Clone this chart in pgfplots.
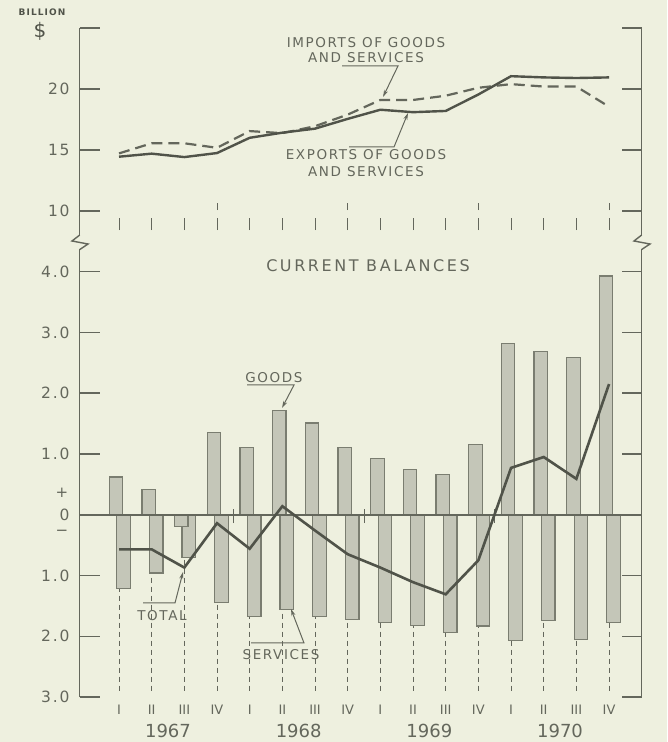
\documentclass[border=0pt]{standalone}
\usepackage{pgfplots}
\pgfplotsset{compat=1.18}
\usepackage{fontspec}
\setmainfont{DejaVu Sans}
\newfontfamily\lbl[LetterSpace=12]{DejaVu Sans}
\newfontfamily\lblw[LetterSpace=16]{DejaVu Sans}
\usetikzlibrary{arrows.meta}
\definecolor{bg}{RGB}{238,240,223}
\definecolor{ink}{RGB}{100,103,92}
\definecolor{dark}{RGB}{80,83,73}
\definecolor{barfill}{RGB}{196,198,184}
\definecolor{barmid}{RGB}{222,224,210}
\definecolor{baredge}{RGB}{122,125,112}

\pgfplotstableread{
x exports imports
0 14.45 14.72
1 14.70 15.55
2 14.42 15.55
3 14.75 15.18
4 16.00 16.55
5 16.42 16.38
6 16.75 16.95
7 17.55 17.90
8 18.30 19.10
9 18.10 19.10
10 18.20 19.45
11 19.55 20.10
12 21.05 20.40
13 20.95 20.20
14 20.90 20.20
15 20.95 18.55
}\tradetable

\pgfplotstableread{
x goods services total
0 0.62 -1.21 -0.57
1 0.41 -0.96 -0.57
2 -0.20 -0.70 -0.87
3 1.35 -1.44 -0.14
4 1.10 -1.67 -0.56
5 1.72 -1.56 0.14
6 1.51 -1.68 -0.26
7 1.11 -1.73 -0.65
8 0.93 -1.77 -0.87
9 0.74 -1.82 -1.11
10 0.66 -1.94 -1.31
11 1.15 -1.83 -0.75
12 2.82 -2.07 0.77
13 2.69 -1.74 0.95
14 2.59 -2.05 0.59
15 3.93 -1.77 2.15
}\baltable

\begin{document}
\begin{tikzpicture}
\fill[bg] (0pt,0pt) rectangle (667pt,742pt);
\path[use as bounding box] (0pt,0pt) rectangle (667pt,742pt);

% ---------------- top panel ----------------
\begin{axis}[
  at={(79.8pt,506.6pt)}, anchor=south west, scale only axis,
  width=561.9pt, height=207.4pt,
  xmin=-1.2, xmax=16, ymin=8, ymax=25,
  separate axis lines,
  x axis line style={draw=none},
  y axis line style={draw=ink, line width=1.4pt},
  xtick=\empty,
  ytick={10,15,20,25}, yticklabels={10,15,20,{}},
  ytick style={draw=ink, line width=1.4pt},
  major tick length=20pt, tick align=inside,
  yticklabel pos=left,
  yticklabel style={font=\lbl\fontsize{15.5}{15.5}\selectfont, text=ink, inner sep=0pt, xshift=-10pt},
  clip=false,
]
\pgfplotsinvokeforeach{0,...,15}{\draw[ink, line width=1pt] (axis cs:#1,8.44) -- (axis cs:#1,9.43);}
\pgfplotsinvokeforeach{3,7,11,15}{\draw[ink, line width=1pt] (axis cs:#1,10.08) -- (axis cs:#1,10.66);}
\addplot[ink, line width=2.2pt, dash pattern=on 11pt off 6pt] table[x=x,y=imports] {\tradetable};
\addplot[dark, line width=2.4pt] table[x=x,y=exports] {\tradetable};
\end{axis}

% ---------------- bottom panel ----------------
\begin{axis}[
  at={(79.8pt,45pt)}, anchor=south west, scale only axis,
  width=561.9pt, height=447.8pt,
  xmin=-1.2, xmax=16, ymin=-3, ymax=4.37,
  separate axis lines,
  x axis line style={draw=none},
  y axis line style={draw=ink, line width=1.4pt},
  xtick={0,...,15},
  xticklabels={I,II,III,IV,I,II,III,IV,I,II,III,IV,I,II,III,IV},
  xtick style={draw=none},
  xticklabel style={font=\fontsize{13}{13}\selectfont, text=ink, inner sep=0pt, yshift=-8pt},
  ytick={-3,-2,-1,0,1,2,3,4},
  yticklabels={3.0,2.0,1.0,0,1.0,2.0,3.0,4.0},
  ytick style={draw=ink, line width=1.4pt},
  major tick length=20pt, tick align=inside,
  yticklabel pos=left,
  yticklabel style={font=\lbl\fontsize{15.5}{15.5}\selectfont, text=ink, inner sep=0pt, xshift=-10pt},
  clip=false,
]
\addplot[ycomb, ink, line width=0.9pt, dash pattern=on 5pt off 4pt] coordinates {
(0,-2.92) (1,-2.92) (2,-2.92) (3,-2.92) (4,-2.92) (5,-2.92) (6,-2.92) (7,-2.92)
(8,-2.92) (9,-2.92) (10,-2.92) (11,-2.92) (12,-2.92) (13,-2.92) (14,-2.92) (15,-2.92)};
\addplot[ybar, bar width=13.5pt, bar shift=4.5pt, draw=baredge, left color=barfill, middle color=barmid, right color=barfill, line width=1.2pt] table[x=x,y=services] {\baltable};
\addplot[ybar, bar width=13.5pt, bar shift=-3pt, draw=baredge, left color=barfill, middle color=barmid, right color=barfill, line width=1.2pt] table[x=x,y=goods] {\baltable};
\addplot[ink, line width=1.6pt] coordinates {(-1.2,0) (16,0)};
\pgfplotsinvokeforeach{3.5,7.5,11.5}{\draw[ink, line width=1pt] (axis cs:#1,-0.14) -- (axis cs:#1,0.1);}
\addplot[dark, line width=2.6pt] table[x=x,y=total] {\baltable};
\node[text=ink, font=\fontsize{18}{18}\selectfont, anchor=north, inner sep=0pt] at (axis cs:1.5,-3) [yshift=-27pt] {1967};
\node[text=ink, font=\fontsize{18}{18}\selectfont, anchor=north, inner sep=0pt] at (axis cs:5.5,-3) [yshift=-27pt] {1968};
\node[text=ink, font=\fontsize{18}{18}\selectfont, anchor=north, inner sep=0pt] at (axis cs:9.5,-3) [yshift=-27pt] {1969};
\node[text=ink, font=\fontsize{18}{18}\selectfont, anchor=north, inner sep=0pt] at (axis cs:13.5,-3) [yshift=-27pt] {1970};
\end{axis}

\begin{scope}[x=1pt,y=1pt]
% breaks
\draw[ink, line width=1.4pt] (79.8,507) -- (72,501) -- (88,498) -- (79.8,492.5);
\draw[ink, line width=1.4pt] (641.7,507) -- (634,501) -- (650,498) -- (641.7,492.5);

% texts
\node[text=dark, font=\lbl\bfseries\fontsize{9}{9}\selectfont] at (42,730) {BILLION};
\node[text=dark, font=\fontsize{20}{20}\selectfont] at (40,711) {\$};
\node[text=ink, font=\lbl\fontsize{15}{15}\selectfont] at (62,249) {+};
\node[text=ink, font=\lbl\fontsize{15}{15}\selectfont] at (62,209) {−};
\node[text=ink, font=\lblw\fontsize{16}{16}\selectfont] at (368,476) {CURRENT BALANCES};

\node[text=ink, font=\lbl\fontsize{13.5}{13.5}\selectfont] at (366,699) {IMPORTS OF GOODS};
\node[text=ink, font=\lbl\fontsize{13.5}{13.5}\selectfont] at (366,684) {AND SERVICES};
\draw[ink, line width=1pt, -{Stealth[length=7pt,width=4pt]}] (342,676) -- (398,676) -- (383,645);

\node[text=ink, font=\lbl\fontsize{13.5}{13.5}\selectfont] at (366,587) {EXPORTS OF GOODS};
\node[text=ink, font=\lbl\fontsize{13.5}{13.5}\selectfont] at (366,570) {AND SERVICES};
\draw[ink, line width=1pt, -{Stealth[length=7pt,width=4pt]}] (349,595) -- (394,595) -- (408,629);

\node[text=ink, font=\lbl\fontsize{13.5}{13.5}\selectfont] at (274,364) {GOODS};
\draw[ink, line width=1pt, -{Stealth[length=7pt,width=4pt]}] (247,357) -- (294,357) -- (282,334);

\node[text=ink, font=\lbl\fontsize{13.5}{13.5}\selectfont] at (162,126) {TOTAL};
\draw[ink, line width=1pt, -{Stealth[length=7pt,width=4pt]}] (143,139) -- (175,139) -- (183,170);

\node[text=ink, font=\lbl\fontsize{13.5}{13.5}\selectfont] at (281,87) {SERVICES};
\draw[ink, line width=1pt, -{Stealth[length=7pt,width=4pt]}] (251,99) -- (304,99) -- (291,133);
\end{scope}
\end{tikzpicture}
\end{document}
